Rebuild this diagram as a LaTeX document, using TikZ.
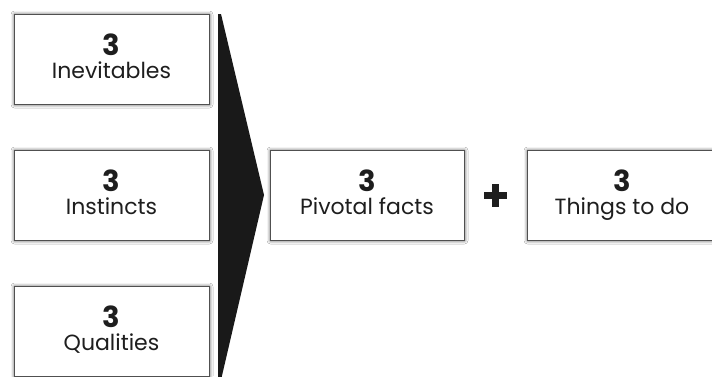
\documentclass[tikz,border=0pt]{standalone}
\usepackage{fontspec}
\setmainfont{Poppins}
\usetikzlibrary{shadows.blur}
\definecolor{ink}{HTML}{1E1E1E}
\definecolor{edge}{HTML}{505050}
\tikzset{
  boxnode/.style={draw=edge, line width=1pt, fill=white, minimum width=195pt, minimum height=90pt, inner sep=0pt,
    blur shadow={shadow xshift=0.5pt, shadow yshift=-0.5pt, shadow blur radius=3.5pt, shadow opacity=75}},
  numtext/.style={font=\fontsize{29}{30}\selectfont\bfseries, text=ink},
  labtext/.style={font=\fontsize{22}{24}\selectfont, text=ink}
}
\begin{document}
\begin{tikzpicture}[x=1pt,y=-1pt]
\useasboundingbox (0,0) rectangle (712,376);
\clip (0,0) rectangle (712,376);
\fill[white] (0,0) rectangle (712,376);
% boxes
\node[boxnode] (a) at (111.5,59) {};
\node[boxnode] (b) at (111.5,195) {};
\node[boxnode] (c) at (111.5,331) {};
\node[boxnode, minimum width=194pt] (p) at (367,195) {};
\node[boxnode, minimum width=190pt] (t) at (622,195) {};
% texts
\foreach \n/\lab in {a/Inevitables, b/Instincts, c/Qualities, p/Pivotal facts, t/Things to do}{
  \node[numtext, anchor=base] (\n-num) at ([yshift=4pt]\n.center) {3};
  \node[labtext, anchor=base] (\n-lab) at ([yshift=-19pt]\n.center) {\lab};
}
% chevron
\fill[black!90] (218,14) -- (221,14) -- (264,195) -- (221,380) -- (218,380) -- cycle;
% plus
\coordinate (plus) at (495.5,195.5);
\fill[ink] ([xshift=-11.5pt,yshift=-3.5pt]plus) rectangle ([xshift=11.5pt,yshift=3.5pt]plus);
\fill[ink] ([xshift=-3.5pt,yshift=-11.5pt]plus) rectangle ([xshift=3.5pt,yshift=11.5pt]plus);
\end{tikzpicture}
\end{document}
